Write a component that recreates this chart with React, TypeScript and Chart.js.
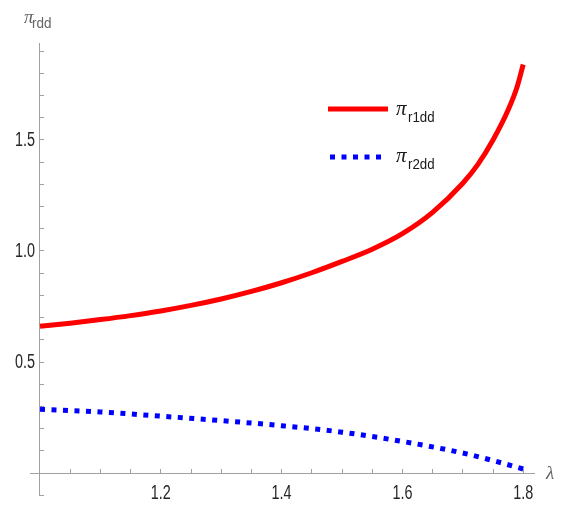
import React, { useEffect, useRef } from "react";
import { Chart, registerables } from "chart.js";

Chart.register(...registerables);

// ---- data ----
const lambdaR1 = [1.0, 1.05, 1.1, 1.15, 1.2, 1.25, 1.3, 1.35, 1.4, 1.45, 1.5, 1.55, 1.6, 1.65, 1.7, 1.725, 1.75, 1.775, 1.79, 1.8];
const piR1dd = [0.661, 0.675, 0.691, 0.709, 0.73, 0.755, 0.784, 0.818, 0.857, 0.902, 0.953, 1.008, 1.078, 1.174, 1.305, 1.39, 1.5, 1.635, 1.74, 1.84];

const lambdaR2 = [1.0, 1.1, 1.2, 1.3, 1.4, 1.5, 1.6, 1.7, 1.75, 1.8];
const piR2dd = [0.287, 0.275, 0.256, 0.236, 0.213, 0.184, 0.142, 0.09, 0.056, 0.018];

const xTickValues = [1.05, 1.1, 1.15, 1.2, 1.25, 1.3, 1.35, 1.4, 1.45, 1.5, 1.55, 1.6, 1.65, 1.7, 1.75, 1.8];
const xLabelValues = [1.2, 1.4, 1.6, 1.8];
const yTickValues = [-0.1, 0.1, 0.2, 0.3, 0.4, 0.5, 0.6, 0.7, 0.8, 0.9, 1.0, 1.1, 1.2, 1.3, 1.4, 1.5, 1.6, 1.7, 1.8, 1.9];
const yLabelValues = [0.5, 1.0, 1.5];

const seriesNames = ["r1dd", "r2dd"];
const axisYName = "rdd";
const axisXName = "λ";

// ---- styling ----
const RED = "#ff0000";
const BLUE = "#0000ff";
const AXIS_GRAY = "#a0a0a0";
const SANS = "'Liberation Sans', Arial, sans-serif";
const GREEK_FONT = "'Liberation Serif', 'DejaVu Serif', serif";

const narrowText = (
  ctx: CanvasRenderingContext2D,
  text: string,
  x: number,
  y: number,
  sx: number,
  align: CanvasTextAlign,
  baseline: CanvasTextBaseline
) => {
  ctx.save();
  ctx.translate(x, y);
  ctx.scale(sx, 1);
  ctx.textAlign = align;
  ctx.textBaseline = baseline;
  ctx.fillText(text, 0, 0);
  ctx.restore();
};

const drawPi = (
  ctx: CanvasRenderingContext2D,
  x: number,
  baseline: number,
  sub: string,
  piSize: number,
  subSize: number,
  subDx: number,
  subDy: number,
  subScale: number,
  color: string
) => {
  ctx.fillStyle = color;
  ctx.font = `italic ${piSize}px ${GREEK_FONT}`;
  narrowText(ctx, "π", x, baseline, 1, "left", "alphabetic");
  ctx.font = `${subSize}px ${SANS}`;
  narrowText(ctx, sub, x + subDx, baseline + subDy, subScale, "left", "alphabetic");
};

const overlayPlugin = {
  id: "overlayTexts",
  afterDraw(chart: any) {
    const ctx: CanvasRenderingContext2D = chart.ctx;
    const area = chart.chartArea;
    const xs = chart.scales.x;
    const ys = chart.scales.y;
    const axisX = xs.getPixelForValue(1.0);
    const axisY = ys.getPixelForValue(0);
    ctx.save();

    // tick labels (narrow sans, as in the reference)
    ctx.fillStyle = "#262626";
    ctx.font = `20px ${SANS}`;
    xLabelValues.forEach((v) => {
      narrowText(ctx, v.toFixed(1), xs.getPixelForValue(v), axisY + 20.5, 0.72, "center", "middle");
    });
    yLabelValues.forEach((v) => {
      narrowText(ctx, v.toFixed(1), axisX - 5, ys.getPixelForValue(v) + 0.5, 0.72, "right", "middle");
    });

    // legend lines
    const lx = area.left + 298;
    ctx.lineCap = "butt";
    ctx.strokeStyle = RED;
    ctx.lineWidth = 5;
    ctx.beginPath();
    ctx.moveTo(lx, area.top + 66);
    ctx.lineTo(lx + 60, area.top + 66);
    ctx.stroke();
    ctx.strokeStyle = BLUE;
    ctx.setLineDash([5, 6.5]);
    ctx.beginPath();
    ctx.moveTo(lx + 2, area.top + 114);
    ctx.lineTo(lx + 55, area.top + 114);
    ctx.stroke();
    ctx.setLineDash([]);

    // legend texts
    drawPi(ctx, lx + 68, area.top + 72, seriesNames[0], 21, 14, 12, 7, 0.95, "#1a1a1a");
    drawPi(ctx, lx + 68, area.top + 118.5, seriesNames[1], 21, 14, 12, 7.5, 0.95, "#1a1a1a");

    // axis names
    drawPi(ctx, area.left - 6, area.top - 20, axisYName, 19, 15, 8, 5, 0.9, "#666666");
    ctx.fillStyle = "#666666";
    ctx.font = `italic 19px ${GREEK_FONT}`;
    narrowText(ctx, axisXName, area.right + 12, axisY + 1, 1, "left", "middle");
    ctx.restore();
  },
};

export default function App() {
  const canvasRef = useRef<HTMLCanvasElement | null>(null);

  useEffect(() => {
    if (!canvasRef.current) return;
    const axisCommon = {
      type: "linear",
      ticks: { display: false, autoSkip: false },
      grid: {
        drawOnChartArea: false,
        drawTicks: true,
        tickLength: -5,
        color: AXIS_GRAY,
        lineWidth: 1,
      },
      border: { display: true, color: AXIS_GRAY, width: 1 },
    };
    const chart = new Chart(canvasRef.current, {
      type: "line",
      data: {
        datasets: [
          {
            label: "π r1dd",
            data: lambdaR1.map((x, i) => ({ x, y: piR1dd[i] })),
            borderColor: RED,
            borderWidth: 5,
            pointRadius: 0,
            cubicInterpolationMode: "monotone",
            fill: false,
          },
          {
            label: "π r2dd",
            data: lambdaR2.map((x, i) => ({ x, y: piR2dd[i] })),
            borderColor: BLUE,
            borderWidth: 5,
            borderDash: [5, 6.5],
            borderCapStyle: "butt",
            pointRadius: 0,
            cubicInterpolationMode: "monotone",
            fill: false,
          },
        ],
      },
      options: {
        animation: false,
        responsive: false,
        maintainAspectRatio: false,
        layout: { padding: { left: 30, top: 43, right: 31, bottom: 13 } },
        plugins: {
          legend: { display: false },
          tooltip: { enabled: false },
          title: { display: false },
        },
        scales: {
          x: {
            ...axisCommon,
            axis: "x",
            position: { y: 0 },
            min: 1 - 10 / 604,
            max: 1 + 494 / 604,
            afterBuildTicks: (scale: any) => {
              scale.ticks = xTickValues.map((value) => ({ value }));
            },
          },
          y: {
            ...axisCommon,
            axis: "y",
            position: { x: 1.0 },
            min: -22 / 222,
            max: 430 / 222,
            afterBuildTicks: (scale: any) => {
              scale.ticks = yTickValues.map((value) => ({ value }));
            },
          },
        },
      },
      plugins: [overlayPlugin],
    } as any);
    return () => chart.destroy();
  }, []);

  return (
    <div style={{ position: "absolute", left: 0, top: 0, width: 565, height: 508, background: "#ffffff" }}>
      <canvas ref={canvasRef} width={565} height={508} style={{ width: 565, height: 508, display: "block" }} />
    </div>
  );
}
